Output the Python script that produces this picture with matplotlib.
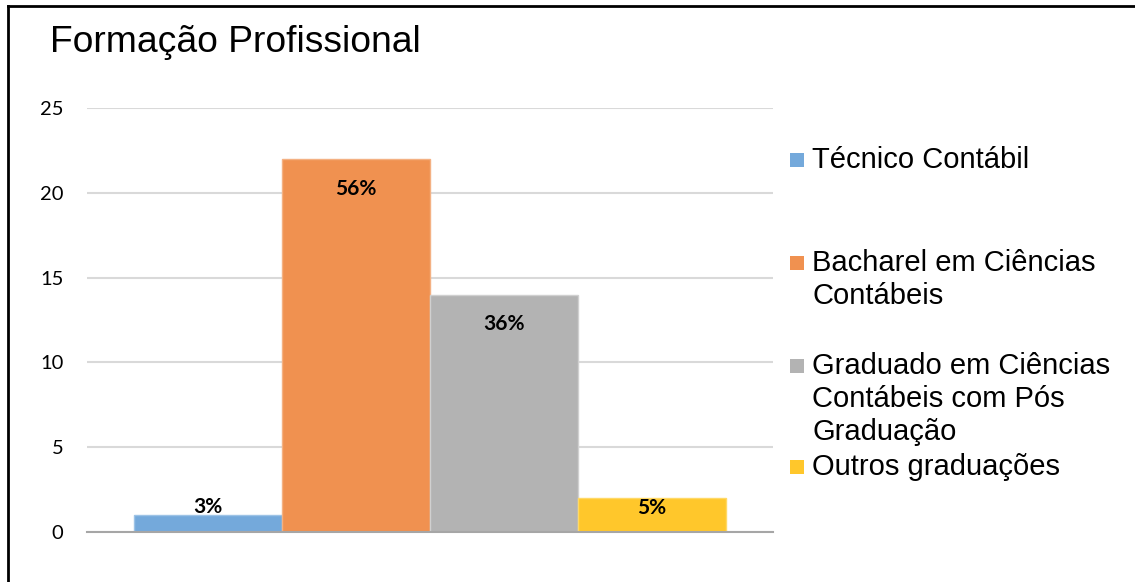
import numpy as np
import matplotlib
matplotlib.use("Agg")
import matplotlib.pyplot as plt
from matplotlib.patches import Rectangle
from matplotlib.lines import Line2D

W, H = 1135, 582

categories = ["Técnico Contábil",
              "Bacharel em Ciências\nContábeis",
              "Graduado em Ciências\nContábeis com Pós\nGraduação",
              "Outros graduações"]
counts = [1, 22, 14, 2]
pct_labels = ["3%", "56%", "36%", "5%"]
colors = ["#74A9DB", "#F09150", "#B3B3B3", "#FFC72B"]
edge_colors = ["#9DC3E6", "#F4B183", "#D0D0D0", "#FFD966"]
yticks = [0, 5, 10, 15, 20, 25]

fig = plt.figure(figsize=(W / 100, H / 100), dpi=100)
ax = fig.add_axes([87 / W, 1 - 532 / H, (773 - 87) / W, (532 - 108) / H])

x = np.arange(len(counts))
ax.bar(x, counts, width=1.0, color=colors, edgecolor=edge_colors, linewidth=1, zorder=3)
ax.set_xlim(-0.82, 3.82)
ax.set_ylim(0, 25)
ax.set_yticks(yticks)
ax.set_xticks([])
ax.tick_params(axis='y', length=0, pad=17, labelsize=14.5)
for lab in ax.get_yticklabels():
    lab.set_fontfamily("Lato")
ax.grid(axis='y', color="#D9D9D9", linewidth=1.5, zorder=0)
for s in ["top", "right", "left"]:
    ax.spines[s].set_visible(False)
ax.spines["bottom"].set_color("#A6A6A6")
ax.spines["bottom"].set_linewidth(1.5)
ax.spines["bottom"].set_zorder(4)

# data labels
for xi, v, lab in zip(x, counts, pct_labels):
    if v >= 5:
        y = v - 1.75
    elif v >= 2:
        y = v * 0.7
    else:
        y = v + 0.5
    ax.text(xi, y, lab, ha="center", va="center", fontsize=15,
            fontweight="bold", family="Lato", zorder=5)

# title
fig.text(50 / W, 1 - 42 / H, "Formação Profissional", ha="left", va="center",
         fontsize=26.8, family="Liberation Sans")

# legend drawn by hand to keep the uneven spacing of the original
first_line_y = [160, 263, 366, 467]
line_h = 33
for cat, col, yc in zip(categories, colors, first_line_y):
    fig.patches.append(Rectangle((790 / W, 1 - (yc + 7) / H), 14 / W, 14 / H,
                                 transform=fig.transFigure, facecolor=col,
                                 edgecolor="none"))
    for i, line in enumerate(cat.split("\n")):
        fig.text(812 / W, 1 - (yc + i * line_h) / H, line, ha="left",
                 va="center", fontsize=21, family="Liberation Sans")

# page border (top and left)
fig.lines.append(Line2D([8 / W, 1], [1 - 5.5 / H, 1 - 5.5 / H],
                        transform=fig.transFigure, color="black", linewidth=2))
fig.lines.append(Line2D([8 / W, 8 / W], [0, 1 - 5.5 / H],
                        transform=fig.transFigure, color="black", linewidth=2))

fig.savefig("out.png", dpi=100)
